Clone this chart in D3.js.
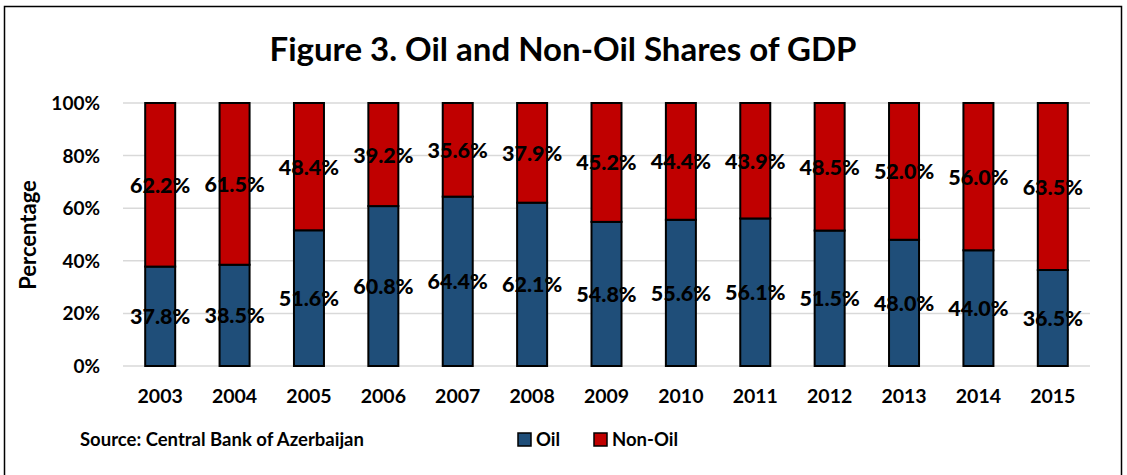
<!DOCTYPE html>
<html>
<head>
<meta charset="utf-8">
<script src="https://cdn.jsdelivr.net/npm/d3@7"></script>
<style>
  body { margin: 0; background: #fff; }
  text { font-family: Lato, "Open Sans", sans-serif; font-weight: bold; fill: #000; }
  .val { font-weight: 900; }
</style>
</head>
<body>
<script>
var years = ['2003','2004','2005','2006','2007','2008','2009','2010','2011','2012','2013','2014','2015'];
var oil = [37.8, 38.5, 51.6, 60.8, 64.4, 62.1, 54.8, 55.6, 56.1, 51.5, 48.0, 44.0, 36.5];
var nonOil = [62.2, 61.5, 48.4, 39.2, 35.6, 37.9, 45.2, 44.4, 43.9, 48.5, 52.0, 56.0, 63.5];
var yTicks = [0, 20, 40, 60, 80, 100];

var width = 1127, height = 475;
var plotLeft = 123, plotRight = 1090, plotTop = 103, plotBottom = 366;
var blue = '#1F4E79', red = '#C00000';

var svg = d3.select('body').append('svg')
  .attr('width', width)
  .attr('height', height);

svg.append('rect')
  .attr('x', 4.5).attr('y', 6.5)
  .attr('width', 1117).attr('height', 480)
  .attr('fill', 'none').attr('stroke', '#000').attr('stroke-width', 1.5);

var x = d3.scaleBand().domain(years).range([plotLeft, plotRight]);
var y = d3.scaleLinear().domain([0, 100]).range([plotBottom, plotTop]);
var barW = 30;

// title
svg.append('text')
  .attr('x', 563).attr('y', 61)
  .attr('text-anchor', 'middle')
  .style('font-size', '33px')
  .text('Figure 3. Oil and Non-Oil Shares of GDP');

// gridlines
svg.selectAll('.grid').data(yTicks).enter().append('line')
  .attr('x1', plotLeft).attr('x2', plotRight)
  .attr('y1', function(d) { return y(d); })
  .attr('y2', function(d) { return y(d); })
  .attr('stroke', '#d9d9d9').attr('stroke-width', 1.5);

// y tick labels
svg.selectAll('.ytick').data(yTicks).enter().append('text')
  .attr('x', 100).attr('y', function(d) { return y(d) + 7; })
  .attr('text-anchor', 'end')
  .style('font-size', '19px')
  .text(function(d) { return d + '%'; });

// y axis title
svg.append('text')
  .attr('transform', 'translate(36,235) rotate(-90)')
  .attr('text-anchor', 'middle')
  .style('font-size', '22px')
  .text('Percentage');

var g = svg.selectAll('.bar').data(years).enter().append('g');

// oil segment
g.append('rect')
  .attr('x', function(d) { return x(d) + x.bandwidth() / 2 - barW / 2; })
  .attr('y', function(d, i) { return y(oil[i]); })
  .attr('width', barW)
  .attr('height', function(d, i) { return y(0) - y(oil[i]); })
  .attr('fill', blue).attr('stroke', '#000').attr('stroke-width', 2);

// non-oil segment
g.append('rect')
  .attr('x', function(d) { return x(d) + x.bandwidth() / 2 - barW / 2; })
  .attr('y', function(d, i) { return y(oil[i] + nonOil[i]); })
  .attr('width', barW)
  .attr('height', function(d, i) { return y(oil[i]) - y(oil[i] + nonOil[i]); })
  .attr('fill', red).attr('stroke', '#000').attr('stroke-width', 2);

// value labels
g.append('text')
  .attr('class', 'val')
  .attr('x', function(d) { return x(d) + x.bandwidth() / 2; })
  .attr('y', function(d, i) { return y(oil[i] / 2) + 8; })
  .attr('text-anchor', 'middle')
  .style('font-size', '21.5px')
  .text(function(d, i) { return oil[i].toFixed(1) + '%'; });

g.append('text')
  .attr('class', 'val')
  .attr('x', function(d) { return x(d) + x.bandwidth() / 2; })
  .attr('y', function(d, i) { return y(oil[i] + nonOil[i] / 2) + 8; })
  .attr('text-anchor', 'middle')
  .style('font-size', '21.5px')
  .text(function(d, i) { return nonOil[i].toFixed(1) + '%'; });

// x labels
g.append('text')
  .attr('x', function(d) { return x(d) + x.bandwidth() / 2; })
  .attr('y', 403)
  .attr('text-anchor', 'middle')
  .style('font-size', '19.5px')
  .text(function(d) { return d; });

// source
svg.append('text')
  .attr('x', 80).attr('y', 446)
  .style('font-size', '18.5px')
  .text('Source: Central Bank of Azerbaijan');

// legend
var legend = [['Oil', blue, 518], ['Non-Oil', red, 594]];
legend.forEach(function(l) {
  svg.append('rect')
    .attr('x', l[2]).attr('y', 433).attr('width', 13).attr('height', 13)
    .attr('fill', l[1]).attr('stroke', '#000').attr('stroke-width', 1.5);
  svg.append('text')
    .attr('x', l[2] + 18).attr('y', 446)
    .style('font-size', '18.5px')
    .text(l[0]);
});
</script>
</body>
</html>
